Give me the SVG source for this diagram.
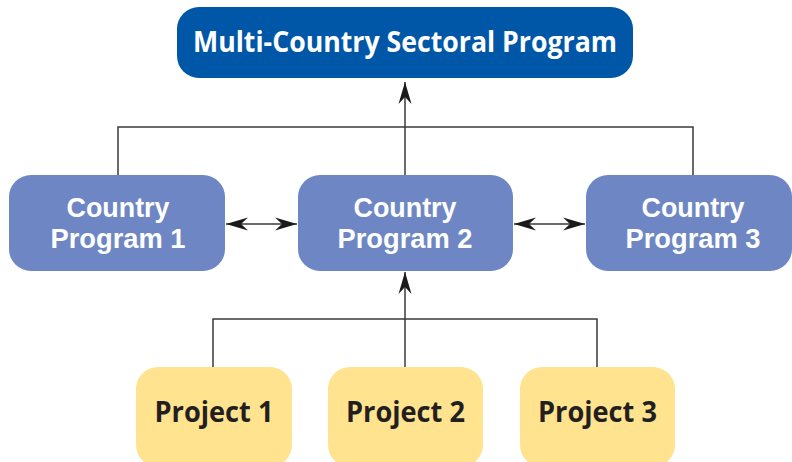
<svg xmlns="http://www.w3.org/2000/svg" width="792" height="462" viewBox="0 0 792 462">
<style>
.lbl{font-family:"Open Sans","Liberation Sans",sans-serif;font-weight:bold;text-anchor:middle}
.two{font-family:"Liberation Sans","Open Sans",sans-serif;font-weight:bold;text-anchor:middle;font-size:27px}
.w{fill:#ffffff}
.d{fill:#231f20}
.top{fill:#0057a8}
.cp{fill:#6e87c4}
.pj{fill:#ffe38f}
.ln{fill:none;stroke:#3a3a3a;stroke-width:1.5}
</style>
<defs>
<marker id="ah" markerUnits="userSpaceOnUse" markerWidth="24" markerHeight="16" viewBox="-22 -8 24 16" refX="0" refY="0" orient="auto-start-reverse">
<path d="M0,0 L-22,-6.5 L-15,0 L-22,6.5 Z" fill="#1a1a1a"/>
</marker>
</defs>
<rect width="792" height="462" fill="#ffffff"/>
<g id="connectors">
<path class="ln" d="M118,175 V127 H693 V175"/>
<path class="ln" d="M405,175 V82" marker-end="url(#ah)"/>
<path class="ln" d="M213,367 V319 H597 V367"/>
<path class="ln" d="M405,367 V272" marker-end="url(#ah)"/>
<path class="ln" d="M226,224 H297" marker-start="url(#ah)" marker-end="url(#ah)"/>
<path class="ln" d="M514,224 H585" marker-start="url(#ah)" marker-end="url(#ah)"/>
</g>
<g id="multi-country">
<rect class="top" x="177" y="7" width="456" height="71" rx="22"/>
<text class="lbl w" x="405" y="52" font-size="29" textLength="424" lengthAdjust="spacingAndGlyphs">Multi-Country Sectoral Program</text>
</g>
<g id="country1">
<rect class="cp" x="9" y="175" width="216" height="96" rx="22"/>
<text class="two w" x="118" y="217" textLength="103" lengthAdjust="spacingAndGlyphs">Country</text>
<text class="two w" x="118" y="248" textLength="135" lengthAdjust="spacingAndGlyphs">Program 1</text>
</g>
<g id="country2">
<rect class="cp" x="298" y="175" width="215" height="96" rx="22"/>
<text class="two w" x="405" y="217" textLength="103" lengthAdjust="spacingAndGlyphs">Country</text>
<text class="two w" x="405" y="248" textLength="135" lengthAdjust="spacingAndGlyphs">Program 2</text>
</g>
<g id="country3">
<rect class="cp" x="586" y="175" width="206" height="96" rx="22"/>
<text class="two w" x="693" y="217" textLength="103" lengthAdjust="spacingAndGlyphs">Country</text>
<text class="two w" x="693" y="248" textLength="135" lengthAdjust="spacingAndGlyphs">Program 3</text>
</g>
<g id="project1">
<rect class="pj" x="136" y="367" width="156" height="100" rx="22"/>
<text class="lbl d" x="214" y="422" font-size="29" textLength="119" lengthAdjust="spacingAndGlyphs">Project 1</text>
</g>
<g id="project2">
<rect class="pj" x="328" y="367" width="155" height="100" rx="22"/>
<text class="lbl d" x="405.5" y="422" font-size="29" textLength="119" lengthAdjust="spacingAndGlyphs">Project 2</text>
</g>
<g id="project3">
<rect class="pj" x="520" y="367" width="155" height="100" rx="22"/>
<text class="lbl d" x="597.5" y="422" font-size="29" textLength="119" lengthAdjust="spacingAndGlyphs">Project 3</text>
</g>
</svg>
